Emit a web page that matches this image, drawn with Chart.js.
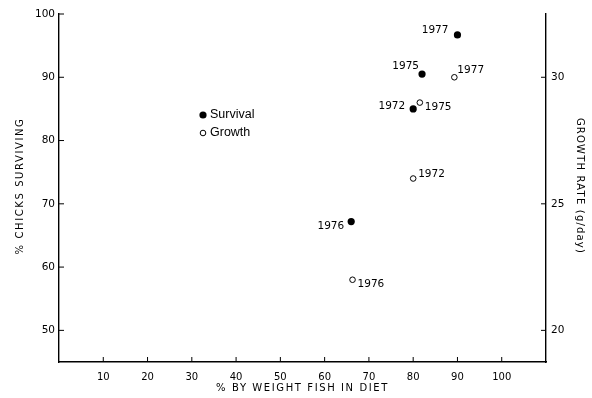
<!DOCTYPE html>
<html>
<head>
<meta charset="utf-8">
<script src="https://cdn.jsdelivr.net/npm/chart.js@4.4.1/dist/chart.umd.min.js"></script>
<style>
html,body{margin:0;padding:0;background:#fff;}
#wrap{width:592px;height:398px;position:relative;}
</style>
</head>
<body>
<div id="wrap"><canvas id="c" width="592" height="398"></canvas></div>
<script>
// ---- data ----
const years = ['1972', '1975', '1976', '1977'];
const fishPctSurvival = [80, 82, 66, 90];
const survivalPct = [85, 90.5, 67.2, 96.7];
const fishPctGrowth = [80, 81.5, 66.3, 89.3];
const growthRate = [26, 29, 22, 30];
const xTickValues = [10, 20, 30, 40, 50, 60, 70, 80, 90, 100];
const survivalTickValues = [50, 60, 70, 80, 90, 100];
const growthTickValues = [20, 25, 30];
const xTitle = '% BY WEIGHT FISH IN DIET';
const yTitle = '% CHICKS SURVIVING';
const y2Title = 'GROWTH RATE (g/day)';

// label placement (style only): [dx, dy, align]
const survivalLabelPlace = [[-8, -3, 'right'], [-3, -8, 'right'], [-7, 5, 'right'], [-9, -5, 'right']];
const growthLabelPlace = [[5, -4, 'left'], [5, 5, 'left'], [5, 5, 'left'], [3, -7, 'left']];

const FONT = '"DejaVu Sans", sans-serif';

const labelPlugin = {
  id: 'yearLabels',
  afterDatasetsDraw(chart) {
    const ctx = chart.ctx;
    const ca = chart.chartArea;
    ctx.save();
    ctx.fillStyle = '#000';
    ctx.font = '10.5px ' + FONT;
    ctx.textBaseline = 'middle';
    [[0, survivalLabelPlace], [1, growthLabelPlace]].forEach(([di, place]) => {
      const meta = chart.getDatasetMeta(di);
      meta.data.forEach((pt, i) => {
        const p = place[i];
        ctx.textAlign = p[2];
        ctx.fillText(years[i], pt.x + p[0], pt.y + p[1]);
      });
    });
    // legend
    const lx = ca.left + 144, ly1 = ca.top + 101, ly2 = ca.top + 119;
    ctx.beginPath(); ctx.arc(lx, ly1, 3.6, 0, Math.PI * 2); ctx.fill();
    ctx.beginPath(); ctx.arc(lx, ly2, 2.8, 0, Math.PI * 2); ctx.lineWidth = 1; ctx.strokeStyle = '#000'; ctx.stroke();
    ctx.font = '12.5px "Liberation Sans", Arial, sans-serif';
    ctx.textAlign = 'left';
    ctx.fillText(chart.data.datasets[0].label, lx + 7, ly1);
    ctx.fillText(chart.data.datasets[1].label, lx + 7, ly2);
    // inward tick marks
    ctx.strokeStyle = '#000';
    ctx.lineWidth = 1;
    const sx = chart.scales.x, sy = chart.scales.y, sg = chart.scales.y2;
    sx.ticks.forEach(t => { const x = sx.getPixelForValue(t.value); ctx.beginPath(); ctx.moveTo(x, ca.bottom); ctx.lineTo(x, ca.bottom - 5); ctx.stroke(); });
    sy.ticks.forEach(t => { const y = sy.getPixelForValue(t.value); ctx.beginPath(); ctx.moveTo(ca.left, y); ctx.lineTo(ca.left + 5, y); ctx.stroke(); });
    sg.ticks.forEach(t => { const y = sg.getPixelForValue(t.value); ctx.beginPath(); ctx.moveTo(ca.right, y); ctx.lineTo(ca.right - 5, y); ctx.stroke(); });
    // axis titles with letter spacing
    const cy = (ca.top + ca.bottom) / 2 - 2;
    ctx.font = '10px ' + FONT;
    ctx.textAlign = 'center';
    ctx.textBaseline = 'middle';
    try { ctx.letterSpacing = '1.6px'; } catch (e) {}
    ctx.fillText(xTitle, (ca.left + ca.right) / 2, 388);
    ctx.save();
    ctx.translate(20, cy);
    ctx.rotate(-Math.PI / 2);
    ctx.fillText(yTitle, 0, 0);
    ctx.restore();
    try { ctx.letterSpacing = '1.2px'; } catch (e) {}
    ctx.save();
    ctx.translate(580, cy);
    ctx.rotate(Math.PI / 2);
    ctx.fillText(y2Title, 0, 0);
    ctx.restore();
    try { ctx.letterSpacing = '0px'; } catch (e) {}
    ctx.restore();
  }
};

const toPts = (xs, ys) => xs.map((x, i) => ({x: x, y: ys[i]}));

new Chart(document.getElementById('c'), {
  type: 'scatter',
  data: {
    datasets: [
      {
        label: 'Survival',
        data: toPts(fishPctSurvival, survivalPct),
        yAxisID: 'y',
        pointRadius: 3.6,
        pointBackgroundColor: '#000',
        pointBorderColor: '#000',
        pointBorderWidth: 0
      },
      {
        label: 'Growth',
        data: toPts(fishPctGrowth, growthRate),
        yAxisID: 'y2',
        pointRadius: 2.8,
        pointBackgroundColor: '#fff',
        pointBorderColor: '#000',
        pointBorderWidth: 1
      }
    ]
  },
  options: {
    responsive: false,
    animation: false,
    layout: {padding: {top: 14, left: 0, right: 0, bottom: 0}},
    plugins: {legend: {display: false}, tooltip: {enabled: false}},
    scales: {
      x: {
        type: 'linear', min: 0, max: 110,
        afterBuildTicks: s => { s.ticks = xTickValues.map(v => ({value: v})); },
        afterFit: s => { s.height = 36; },
        grid: {drawOnChartArea: false, drawTicks: false},
        border: {display: true, color: '#000', width: 1.4},
        ticks: {color: '#000', font: {family: FONT, size: 10}, padding: 9, maxRotation: 0},
        title: {display: false}
      },
      y: {
        type: 'linear', position: 'left', min: 45, max: 100,
        afterBuildTicks: s => { s.ticks = survivalTickValues.map(v => ({value: v})); },
        afterFit: s => { s.width = 59; },
        grid: {drawOnChartArea: false, drawTicks: false},
        border: {display: true, color: '#000', width: 1.4},
        ticks: {color: '#000', font: {family: FONT, size: 10.5}, padding: 4},
        title: {display: false}
      },
      y2: {
        type: 'linear', position: 'right', min: 18.75, max: 32.5,
        afterBuildTicks: s => { s.ticks = growthTickValues.map(v => ({value: v})); },
        afterFit: s => { s.width = 46; },
        grid: {drawOnChartArea: false, drawTicks: false},
        border: {display: true, color: '#000', width: 1.4},
        ticks: {color: '#000', font: {family: FONT, size: 10.5}, padding: 5},
        title: {display: false}
      }
    }
  },
  plugins: [labelPlugin]
});
</script>
</body>
</html>
